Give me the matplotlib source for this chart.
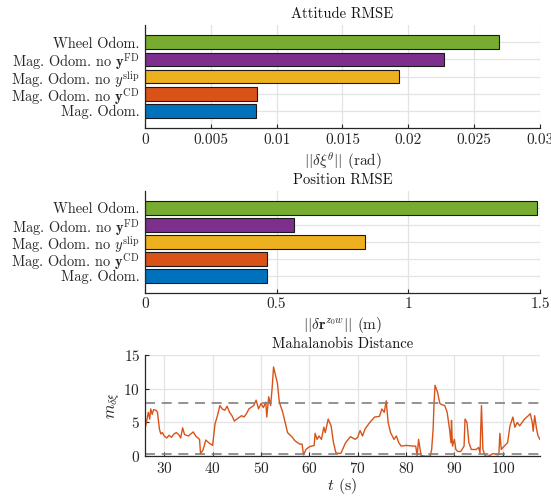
import matplotlib
matplotlib.use('Agg')
import matplotlib.pyplot as plt
import numpy as np

plt.rcParams['font.family'] = ['cmr10', 'DejaVu Serif']
plt.rcParams['mathtext.fontset'] = 'cm'
plt.rcParams['axes.formatter.use_mathtext'] = True

# Bar data (bottom to top)
methods = [r'Mag. Odom.',
           r'Mag. Odom. no $\mathbf{y}^{\mathrm{CD}}$',
           r'Mag. Odom. no $y^{\mathrm{slip}}$',
           r'Mag. Odom. no $\mathbf{y}^{\mathrm{FD}}$',
           r'Wheel Odom.']
colors = ['#0072BD', '#D95319', '#EDB120', '#7E2F8E', '#77AC30']
att_rmse = [0.0084, 0.0085, 0.0193, 0.0227, 0.0269]
pos_rmse = [0.465, 0.465, 0.835, 0.565, 1.49]

# Mahalanobis distance trace
t = [26.0, 26.3, 26.7, 27.0, 27.2, 27.5, 27.8, 28.3, 28.6, 29.0, 29.3, 29.6,
     30.0, 30.5, 31.0, 31.5, 32.0, 32.5, 33.0, 33.4, 33.8, 34.2, 35.0, 35.5,
     36.0, 36.5, 37.0, 37.3, 37.5, 38.0, 38.6, 39.2, 40.0, 40.5, 41.0, 41.5,
     42.0, 42.5, 43.0, 43.5, 44.0, 44.5, 45.0, 46.0, 46.5, 47.0, 47.5, 48.5,
     49.0, 49.5, 50.0, 50.5, 51.0, 51.2, 51.6, 52.0, 52.3, 52.6, 53.0, 53.4,
     53.8, 54.5, 55.0, 55.5, 56.5, 57.0, 58.0, 58.5, 58.8, 59.3, 60.0, 61.0,
     61.2, 61.6, 62.0, 62.5, 63.0, 63.3, 63.9, 64.5, 65.0, 65.5, 66.5, 67.5,
     68.5, 69.5, 70.0, 70.5, 71.0, 71.5, 72.5, 73.5, 74.5, 75.0, 75.5, 75.9,
     76.3, 76.8, 77.5, 78.0, 78.5, 79.0, 80.0, 81.5, 82.0, 82.3, 82.6, 83.1,
     84.0, 85.0, 85.3, 85.6, 85.8, 86.0, 86.5, 87.0, 87.5, 88.0, 88.5, 89.0,
     89.3, 89.4, 89.6, 90.0, 90.3, 90.7, 91.3, 92.0, 92.2, 92.6, 93.0, 93.5,
     94.5, 95.0, 95.3, 95.6, 95.9, 96.4, 97.0, 98.0, 99.0, 99.2, 99.4, 99.7,
     100.3, 101.0, 101.5, 102.1, 102.5, 103.0, 103.5, 104.5, 105.3, 105.7,
     106.1, 106.3, 106.6, 107.0, 107.3, 107.7]
m = [4.0, 5.0, 6.5, 5.5, 7.0, 6.2, 6.9, 6.8, 6.5, 4.0, 3.3, 3.5,
     3.0, 2.7, 3.1, 2.8, 3.3, 3.5, 3.2, 2.7, 4.2, 3.2, 3.0, 3.3,
     3.6, 3.0, 2.7, 2.5, 0.4, 0.9, 2.4, 2.0, 1.6, 4.8, 6.0, 7.5,
     7.0, 6.8, 7.4, 6.5, 6.0, 5.2, 5.5, 6.0, 5.8, 6.3, 7.0, 7.5,
     8.3, 7.0, 7.8, 7.2, 8.0, 5.8, 8.8, 7.5, 10.0, 13.2, 12.0, 10.8,
     8.0, 6.5, 5.0, 3.5, 2.8, 2.3, 1.8, 1.8, 0.2, 1.0, 1.4, 1.6,
     3.4, 2.5, 3.0, 2.5, 4.3, 3.5, 5.5, 4.5, 2.0, 0.5, 0.4, 2.0,
     2.9, 2.5, 2.8, 3.8, 3.0, 4.0, 5.0, 5.8, 5.9, 7.0, 6.5, 8.2,
     5.0, 3.5, 2.5, 3.0, 2.0, 1.5, 1.6, 1.5, 1.5, 0.1, 2.5, 0.1,
     0.0, 0.0, 1.0, 4.0, 8.0, 10.5, 9.5, 7.8, 7.6, 7.5, 6.5, 4.0,
     2.0, 5.3, 1.5, 2.5, 1.0, 0.7, 0.7, 1.5, 5.5, 5.0, 2.0, 1.0,
     1.0, 1.3, 0.5, 7.5, 1.0, 0.0, 0.0, 0.4, 0.2, 0.3, 3.4, 1.0,
     1.5, 2.0, 4.5, 5.8, 4.3, 5.0, 4.5, 5.5, 6.0, 6.3,
     5.0, 3.7, 6.0, 4.0, 3.0, 2.5]
chi2_upper = 7.81
chi2_lower = 0.35

grid_c = '#e3e3e3'
axis_c = '#262626'

fig = plt.figure(figsize=(5.51, 4.97), dpi=100)
ax1 = fig.add_axes([0.263, 0.7425, 0.717, 0.207])
ax2 = fig.add_axes([0.263, 0.411, 0.717, 0.205])
ax3 = fig.add_axes([0.263, 0.082, 0.717, 0.204])


def style(ax):
    for s in ['top', 'right']:
        ax.spines[s].set_visible(False)
    for s in ['left', 'bottom']:
        ax.spines[s].set_color(axis_c)
        ax.spines[s].set_linewidth(0.9)
    ax.grid(True, color=grid_c, linewidth=0.9)
    ax.set_axisbelow(True)
    ax.tick_params(direction='in', length=3, colors=axis_c, labelsize=11,
                   labelcolor=axis_c)


ypos = np.arange(1, len(methods) + 1)
for ax, vals, title, xlab, xt, xtl in [
        (ax1, att_rmse, 'Attitude RMSE', r'$||\delta\xi^{\theta}||$ (rad)',
         [0, 0.005, 0.01, 0.015, 0.02, 0.025, 0.03],
         ['0', '0.005', '0.01', '0.015', '0.02', '0.025', '0.03']),
        (ax2, pos_rmse, 'Position RMSE', r'$||\delta\mathbf{r}^{z_0w}||$ (m)',
         [0, 0.5, 1, 1.5], ['0', '0.5', '1', '1.5'])]:
    style(ax)
    ax.barh(ypos, vals, height=0.8, color=colors, edgecolor='#1a1a1a',
            linewidth=0.8)
    ax.set_ylim(0, 6)
    ax.set_xlim(xt[0], xt[-1])
    ax.set_yticks(ypos)
    ax.set_yticklabels(methods, fontsize=10.4)
    ax.tick_params(axis='y', length=0, pad=4)
    ax.set_xticks(xt)
    ax.set_xticklabels(xtl)
    ax.set_title(title, fontsize=10.5, color='#111111', pad=5)
    ax.set_xlabel(xlab, fontsize=11, color=axis_c, labelpad=3)

style(ax3)
ax3.plot(t, m, color='#D95319', linewidth=1.0)
ax3.axhline(chi2_upper, color='#808080', linestyle=(0, (6, 4)), linewidth=1.2)
ax3.axhline(chi2_lower, color='#808080', linestyle=(0, (6, 4)), linewidth=1.2)
ax3.set_xlim(26, 107.7)
ax3.set_ylim(0, 15)
ax3.set_xticks([30, 40, 50, 60, 70, 80, 90, 100])
ax3.set_yticks([0, 5, 10, 15])
ax3.set_title('Mahalanobis Distance', fontsize=10.5, color='#111111', pad=5)
ax3.set_xlabel(r'$t$ (s)', fontsize=11.5, color=axis_c, labelpad=0)
ax3.set_ylabel(r'$m_{\delta\xi}$', fontsize=12, color=axis_c, labelpad=1)

fig.savefig('out.png', dpi=100)
